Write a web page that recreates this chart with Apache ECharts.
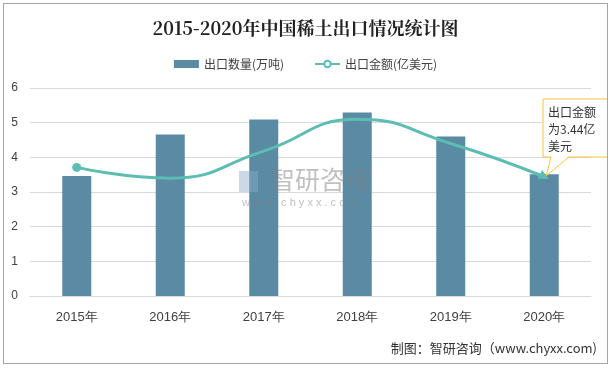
<!DOCTYPE html>
<html><head><meta charset="utf-8">
<script src="https://cdn.jsdelivr.net/npm/echarts@6/dist/echarts.min.js"></script>
<style>html,body{margin:0;padding:0;background:#fff}
#c{position:absolute;left:3px;top:3px;width:605px;height:361px;border:1px solid #a6a6a6;box-sizing:border-box}
</style></head><body><div id="c"></div>
<script>
const categories = ['2015年','2016年','2017年','2018年','2019年','2020年'];
const volume = [3.46, 4.66, 5.09, 5.29, 4.60, 3.51];
const amount = [3.71, 3.40, 4.18, 5.10, 4.40, 3.44];
const yTicks = [0, 1, 2, 3, 4, 5, 6];
const calloutText = '出口金额\n为3.44亿\n美元';

const chart = echarts.init(document.getElementById('c'));
const BOX = { x: 539, y: 95, w: 68, h: 58 };
const lineData = amount.map((v, i) => {
  const d = { value: v, symbol: 'none' };
  if (i === 0) { d.symbol = 'circle'; d.symbolSize = 9; }
  if (i === amount.length - 1) { d.symbol = 'triangle'; d.symbolSize = [10, 10]; d.symbolRotate = -118; }
  return d;
});

chart.setOption({
  animation: false,
  title: { text: '2015-2020年中国稀土出口情况统计图', left: 'center', top: 10,
    textStyle: { fontSize: 18, fontWeight: 'bold', color: '#222', fontFamily: 'Noto Serif CJK SC, Noto Sans CJK SC' } },
  legend: { top: 49, left: 'center', itemGap: 30, itemWidth: 25, itemHeight: 8,
    textStyle: { fontSize: 12, color: '#404040', fontFamily: 'Noto Sans CJK SC' },
    data: [{ name: '出口数量(万吨)', icon: 'rect' }, { name: '出口金额(亿美元)' }] },
  grid: { left: 26, right: 16, top: 84, bottom: 67 },
  xAxis: { type: 'category', data: categories,
    axisLine: { lineStyle: { color: '#d9d9d9' } }, axisTick: { show: false },
    axisLabel: { fontSize: 13, color: '#404040', margin: 15 } },
  yAxis: { type: 'value', min: yTicks[0], max: yTicks[yTicks.length - 1], interval: 1,
    axisLine: { show: false }, axisTick: { show: false },
    axisLabel: { fontSize: 12, color: '#404040', margin: 12 },
    splitLine: { lineStyle: { color: '#d9d9d9' } } },
  series: [
    { name: '出口数量(万吨)', type: 'bar', data: volume, barWidth: 29,
      itemStyle: { color: '#5a8aa4' } },
    { name: '出口金额(亿美元)', type: 'line', data: lineData, smooth: 0.5, z: 3,
      lineStyle: { color: '#5cbdb2', width: 3 }, itemStyle: { color: '#5cbdb2' } }
  ]
});

const p = chart.convertToPixel({ xAxisIndex: 0, yAxisIndex: 0 }, [categories.length - 1, amount[amount.length - 1]]);
const by = BOX.y + BOX.h;
chart.setOption({
  graphic: [
    { type: 'rect', left: 235, top: 167, z: 100, silent: true, shape: { width: 19, height: 21 }, style: { fill: 'rgba(140,170,200,0.45)' } },
    { type: 'text', left: 266, top: 163, z: 100, silent: true, style: { text: '智研咨询', fontSize: 25, fill: 'rgba(130,130,130,0.5)', fontFamily: 'Noto Sans CJK SC' } },
    { type: 'text', left: 238, top: 193, z: 100, silent: true, style: { text: 'w w w . c h y x x . c o m', fontSize: 11, fill: 'rgba(130,130,130,0.5)' } },
    { type: 'text', right: 10, bottom: 8, style: { text: '制图：智研咨询（www.chyxx.com)', fontSize: 13, fill: '#333', fontFamily: 'Noto Sans CJK SC' } },
    { type: 'rect', z: 199, shape: { x: BOX.x, y: BOX.y, width: BOX.w, height: BOX.h }, style: { fill: '#fff', stroke: '#f5c33b', lineWidth: 1 } },
    { type: 'text', z: 202, x: BOX.x + 5, y: BOX.y + 5, style: { text: calloutText, fontSize: 12, lineHeight: 17, fill: '#333', fontFamily: 'Noto Sans CJK SC' } },
    { type: 'polygon', z: 200, shape: { points: [[BOX.x + 8, by - 1], [BOX.x + 26, by - 1], [p[0] + 2, p[1] - 1]] }, style: { fill: '#fff', stroke: null } },
    { type: 'polyline', z: 201, shape: { points: [[BOX.x + 8, by], [p[0] + 2, p[1] - 1], [BOX.x + 26, by]] }, style: { stroke: '#f5c33b', lineWidth: 1, fill: null } }
  ]
});
</script></body></html>
